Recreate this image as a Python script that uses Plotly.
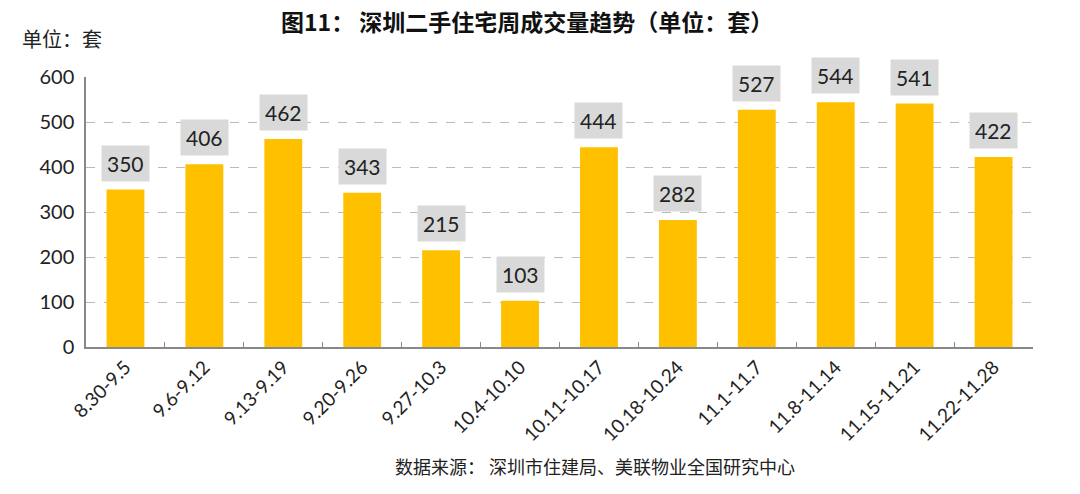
import plotly.graph_objects as go

categories = ["8.30-9.5", "9.6-9.12", "9.13-9.19", "9.20-9.26", "9.27-10.3", "10.4-10.10",
              "10.11-10.17", "10.18-10.24", "11.1-11.7", "11.8-11.14", "11.15-11.21", "11.22-11.28"]
values = [350, 406, 462, 343, 215, 103, 444, 282, 527, 544, 541, 422]
y_ticks = [0, 100, 200, 300, 400, 500, 600]

FONT = "Lato, 'Noto Sans CJK SC', sans-serif"
CJK = "'Noto Sans CJK SC', sans-serif"

fig = go.Figure()
fig.add_trace(go.Bar(x=categories, y=values, marker_color="#FFC000", width=0.48,
                     marker_line_width=0))

for c, v in zip(categories, values):
    fig.add_annotation(x=c, y=v, text=str(v), showarrow=False, yanchor="bottom", yshift=8,
                       bgcolor="#D9D9D9", borderpad=5,
                       font=dict(family=FONT, size=21, color="#222222"))

fig.add_annotation(text="<b>图11： 深圳二手住宅周成交量趋势（单位：套）</b>", xref="paper", yref="paper",
                   x=0.466, y=1, yshift=56, showarrow=False, xanchor="center", yanchor="middle",
                   font=dict(family=CJK, size=23, color="#111111"))
fig.add_annotation(text="单位：套", xref="paper", yref="paper", x=0, xshift=-66, y=1, yshift=39,
                   showarrow=False, xanchor="left", yanchor="middle",
                   font=dict(family=CJK, size=20, color="#222222"))
fig.add_annotation(text="数据来源： 深圳市住建局、美联物业全国研究中心", xref="paper", yref="paper",
                   x=0.537, y=0, yshift=-119, showarrow=False, xanchor="center", yanchor="middle",
                   font=dict(family=CJK, size=18, color="#222222"))

fig.update_layout(
    width=1080, height=494,
    margin=dict(l=86, r=47, t=77, b=147),
    plot_bgcolor="white", paper_bgcolor="white",
    showlegend=False, bargap=0.5,
)
fig.update_xaxes(type="category", tickangle=-45, showline=True, linecolor="#888888", linewidth=1.5,
                 ticks="inside", tickson="boundaries", ticklen=5, tickcolor="#888888",
                 tickfont=dict(family=FONT, size=19, color="#222222"), showgrid=False)
fig.update_yaxes(range=[0, 600], tickvals=y_ticks, showline=True, linecolor="#888888", linewidth=1.5,
                 showgrid=True, gridcolor="#BBBBBB", griddash="dash", gridwidth=1,
                 tickfont=dict(family=FONT, size=20, color="#222222"), ticks="", ticklabelstandoff=6,
                 zeroline=False)

fig.write_html("out.html")
